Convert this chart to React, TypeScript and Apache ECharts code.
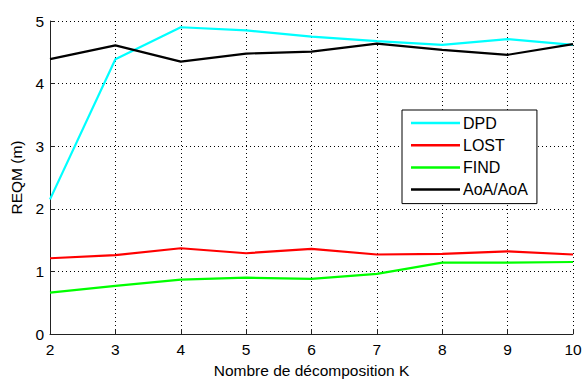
import React, { useEffect, useRef } from "react";
import * as echarts from "echarts";

const kValues = [2, 3, 4, 5, 6, 7, 8, 9, 10];
const dpd = [2.15, 4.39, 4.9, 4.85, 4.75, 4.68, 4.62, 4.71, 4.62];
const lost = [1.21, 1.26, 1.37, 1.29, 1.36, 1.27, 1.28, 1.32, 1.27];
const find = [0.66, 0.77, 0.87, 0.9, 0.88, 0.96, 1.14, 1.14, 1.15];
const aoa = [4.39, 4.61, 4.35, 4.48, 4.51, 4.64, 4.54, 4.46, 4.63];

const seriesNames = ["DPD", "LOST", "FIND", "AoA/AoA"];
const seriesColors = ["#00ffff", "#ff0000", "#00ff00", "#000000"];
const seriesData = [dpd, lost, find, aoa];

const FONT = "'Liberation Sans', Arial, sans-serif";

export default function App() {
  const ref = useRef<HTMLDivElement>(null);
  useEffect(() => {
    if (!ref.current) return;
    const chart = echarts.init(ref.current, undefined, { renderer: "svg" });
    const axisCommon = {
      axisLine: { show: true, lineStyle: { color: "#222", width: 1 } },
      axisTick: { show: true, inside: true, length: 5, lineStyle: { color: "#222" } },
      axisLabel: { color: "#000", fontSize: 15.5, fontFamily: FONT },
      splitLine: {
        show: true,
        lineStyle: { color: "#000", type: [1, 3] as any, width: 1 },
      },
      nameTextStyle: { color: "#000", fontSize: 15.5, fontFamily: FONT },
    };
    chart.setOption({
      animation: false,
      backgroundColor: "#fff",
      textStyle: { fontFamily: FONT },
      grid: { left: 50, right: 15, top: 21, bottom: 42 },
      xAxis: {
        type: "value",
        min: 2,
        max: 10,
        interval: 1,
        name: "Nombre de décomposition K",
        nameLocation: "middle",
        nameGap: 28,
        ...axisCommon,
        axisLabel: { ...axisCommon.axisLabel, margin: 7 },
      },
      yAxis: {
        type: "value",
        min: 0,
        max: 5,
        interval: 1,
        name: "REQM (m)",
        nameLocation: "middle",
        nameGap: 24,
        ...axisCommon,
        axisLabel: { ...axisCommon.axisLabel, margin: 6 },
      },
      legend: {
        orient: "vertical",
        left: 402,
        top: 110,
        width: 135,
        padding: [4, 9, 5, 9],
        itemGap: 4.2,
        itemWidth: 49,
        itemHeight: 2.5,
        icon: "rect",
        borderColor: "#000",
        borderWidth: 1,
        backgroundColor: "#fff",
        borderRadius: 0,
        textStyle: { color: "#000", fontSize: 16, fontFamily: FONT, lineHeight: 18, padding: [0, 0, 0, -2] },
        data: seriesNames,
      },
      series: seriesNames.map((name, i) => ({
        name,
        type: "line",
        data: kValues.map((k, j) => [k, seriesData[i][j]]),
        symbol: "none",
        lineStyle: { color: seriesColors[i], width: 2.2 },
        itemStyle: { color: seriesColors[i] },
        z: 3 + i,
      })),
    });
    return () => chart.dispose();
  }, []);
  return <div ref={ref} style={{ width: 588, height: 383, position: "absolute", left: 0, top: 0 }} />;
}
